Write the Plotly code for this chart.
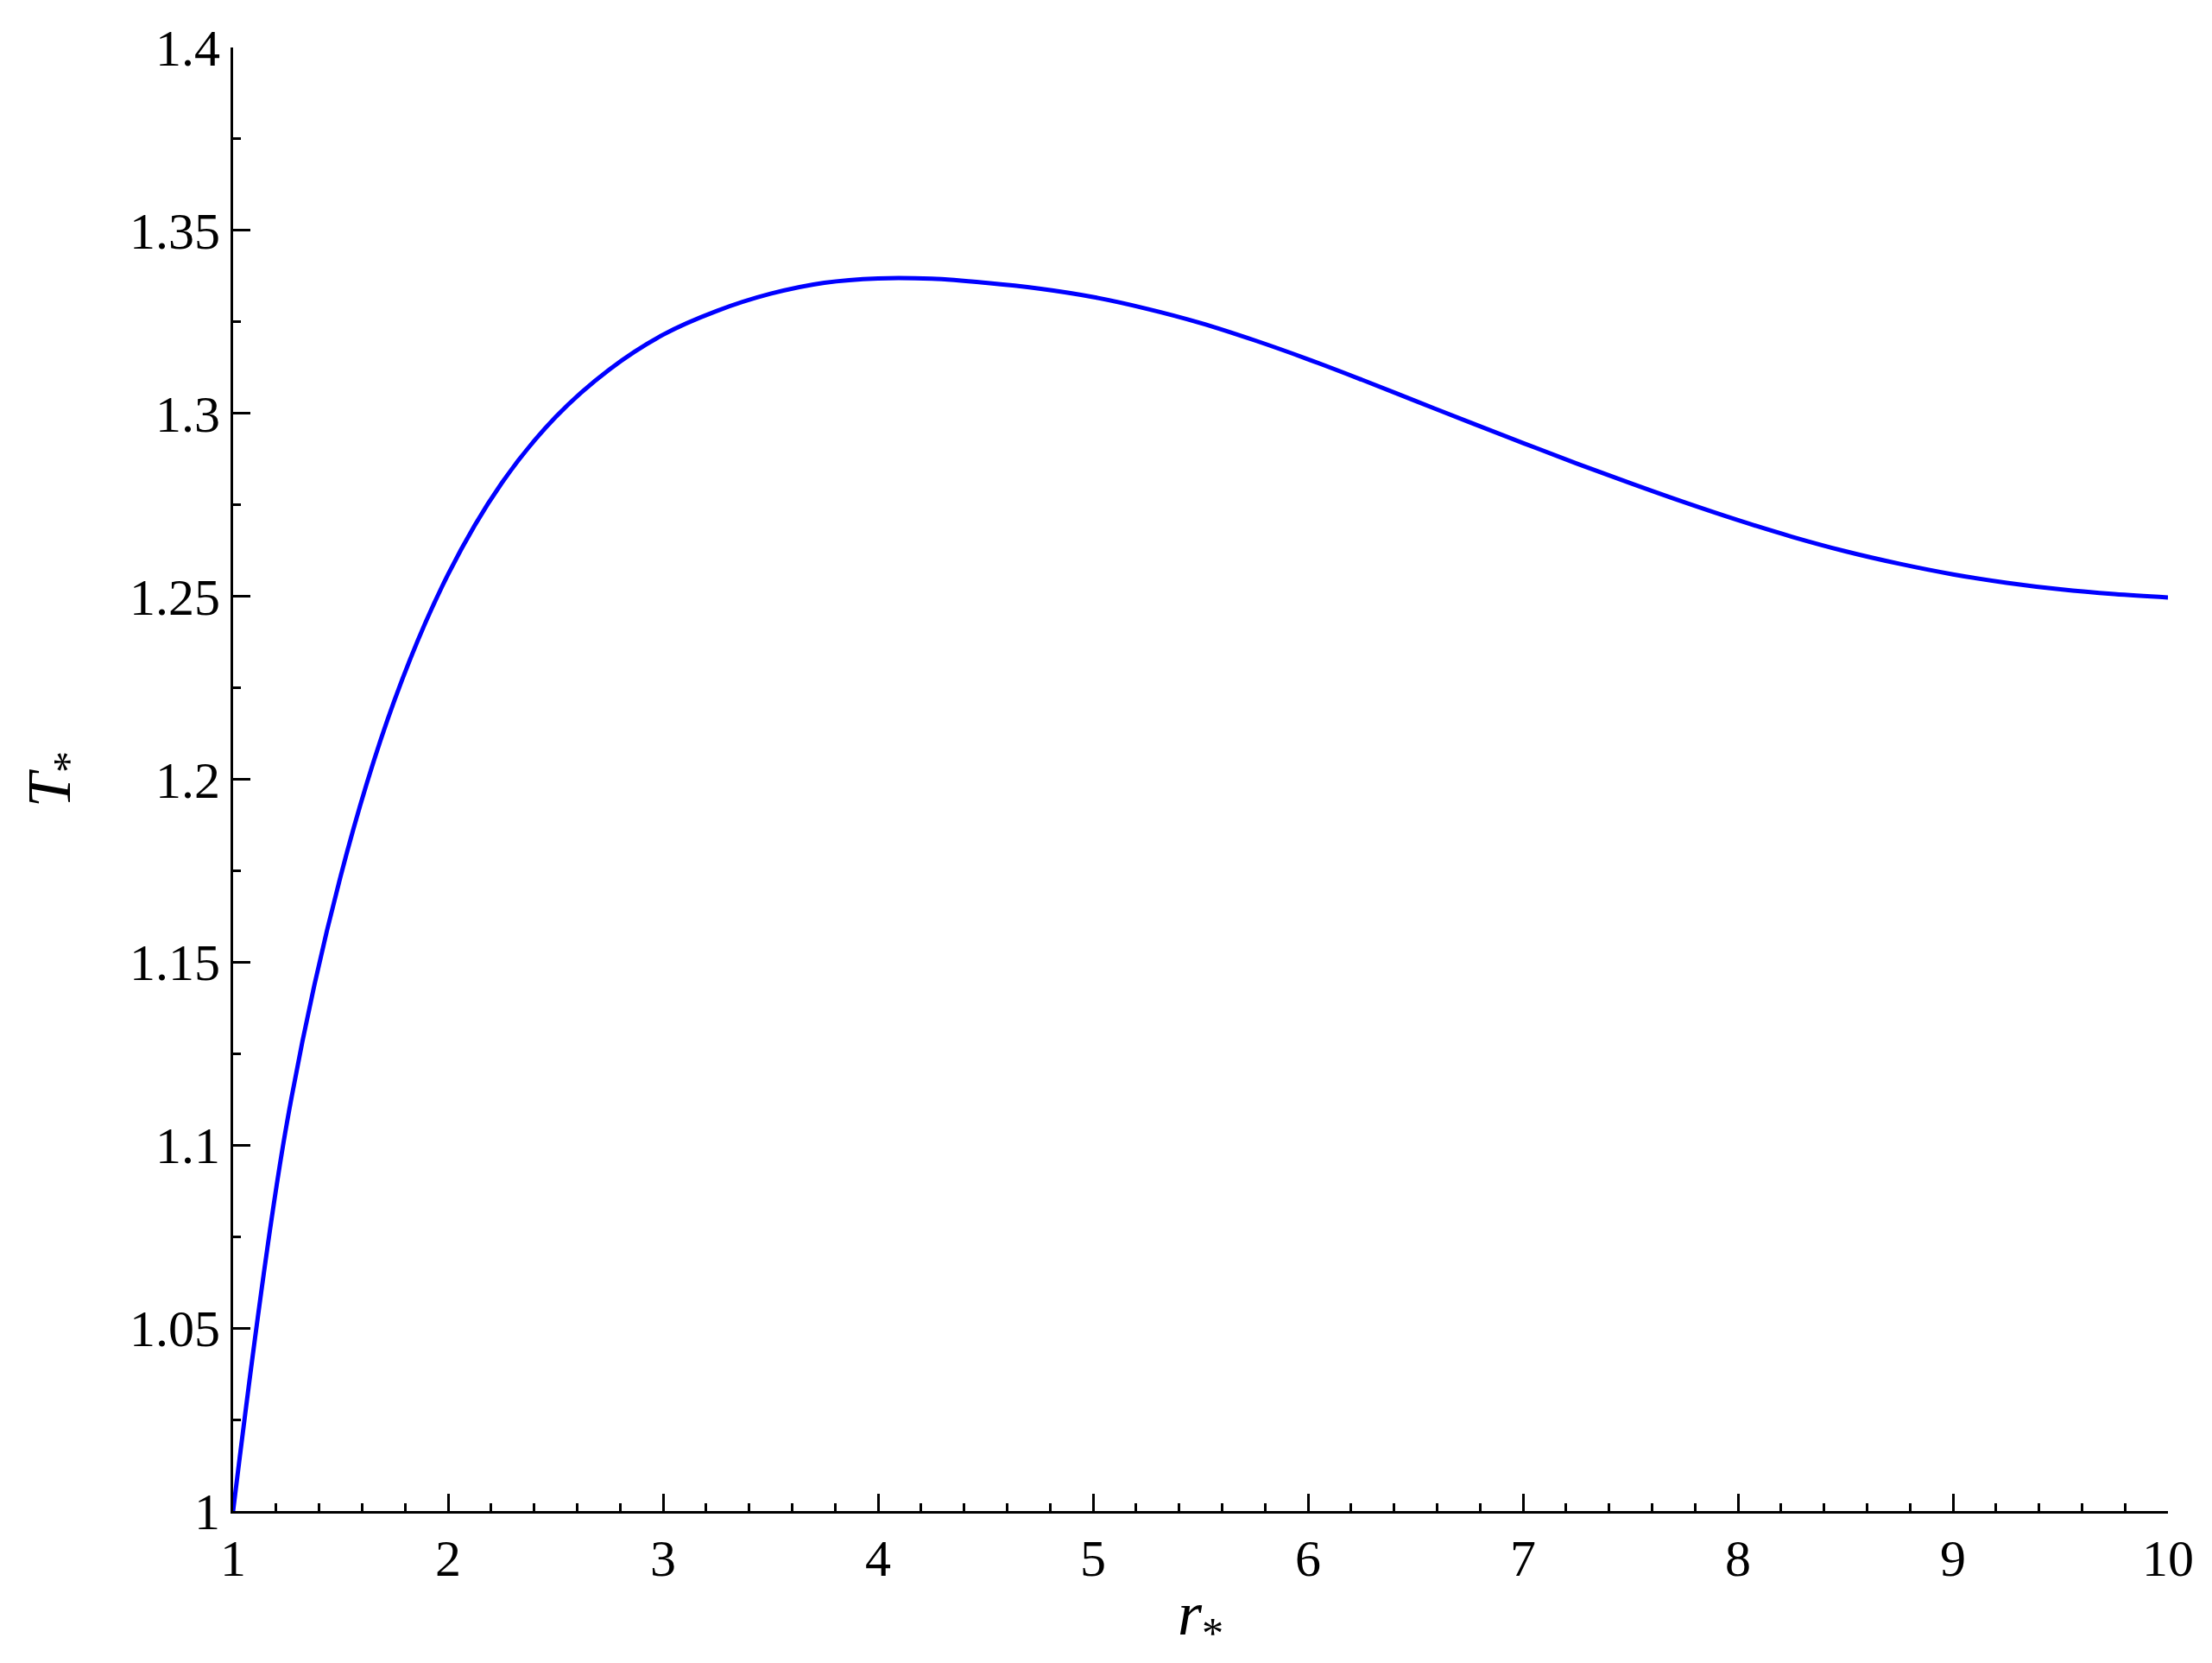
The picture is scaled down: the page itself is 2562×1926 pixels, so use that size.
import plotly.graph_objects as go

r_vals = [1.0, 1.25, 1.5, 1.75, 2.0, 2.25, 2.5, 2.75, 3.0, 3.25, 3.5, 3.75, 4.0, 4.25, 4.5,
          4.75, 5.0, 5.25, 5.5, 5.75, 6.0, 6.25, 6.5, 6.75, 7.0, 7.25, 7.5, 7.75, 8.0, 8.25,
          8.5, 8.75, 9.0, 9.25, 9.5, 9.75, 10.0]
T_vals = [1.000, 1.106, 1.1735, 1.2215, 1.256, 1.281, 1.299, 1.312, 1.3215, 1.328, 1.3327,
          1.3357, 1.3369, 1.3368, 1.3357, 1.3341, 1.3318, 1.3286, 1.3247, 1.3200, 1.3148,
          1.3092, 1.3034, 1.2976, 1.2919, 1.2863, 1.2809, 1.2757, 1.2708, 1.2663, 1.2623,
          1.2589, 1.2560, 1.2537, 1.2519, 1.2506, 1.2497]

x_ticks = [1, 2, 3, 4, 5, 6, 7, 8, 9, 10]
x_labels = ["1", "2", "3", "4", "5", "6", "7", "8", "9", "10"]
y_ticks = [1.0, 1.05, 1.1, 1.15, 1.2, 1.25, 1.3, 1.35, 1.4]
y_labels = ["1", "1.05", "1.1", "1.15", "1.2", "1.25", "1.3", "1.35", "1.4"]

font = "Liberation Serif"

fig = go.Figure()
fig.add_trace(go.Scatter(x=r_vals, y=T_vals, mode="lines",
                         line=dict(color="#0000FF", width=5, shape="spline", smoothing=1.0)))

axis_common = dict(
    showline=True, linecolor="black", linewidth=3, mirror=False,
    showgrid=False, zeroline=False,
    ticks="inside", ticklen=20, tickwidth=3, tickcolor="black",
    tickfont=dict(family=font, size=60, color="black"),
)

fig.update_xaxes(range=[1, 10], tickvals=x_ticks, ticktext=x_labels,
                 minor=dict(ticks="inside", dtick=0.2, ticklen=9, tickwidth=3, tickcolor="black"),
                 title=dict(text="<i>r</i><sub>*</sub>", font=dict(family=font, size=72, color="black"),
                            standoff=6),
                 **axis_common)
fig.update_yaxes(range=[1, 1.4], tickvals=y_ticks, ticktext=y_labels,
                 minor=dict(ticks="inside", dtick=0.025, ticklen=9, tickwidth=3, tickcolor="black"),
                 title=dict(text="<i>T</i><sub>*</sub>", font=dict(family=font, size=72, color="black"),
                            standoff=45),
                 **axis_common)

fig.update_layout(
    width=2562, height=1926,
    margin=dict(l=270, r=51, t=55, b=176),
    paper_bgcolor="white", plot_bgcolor="white",
    showlegend=False,
)

fig.write_html("out.html", config={"displayModeBar": False},
               post_script="document.body.style.margin='0';document.body.style.overflow='hidden';")
